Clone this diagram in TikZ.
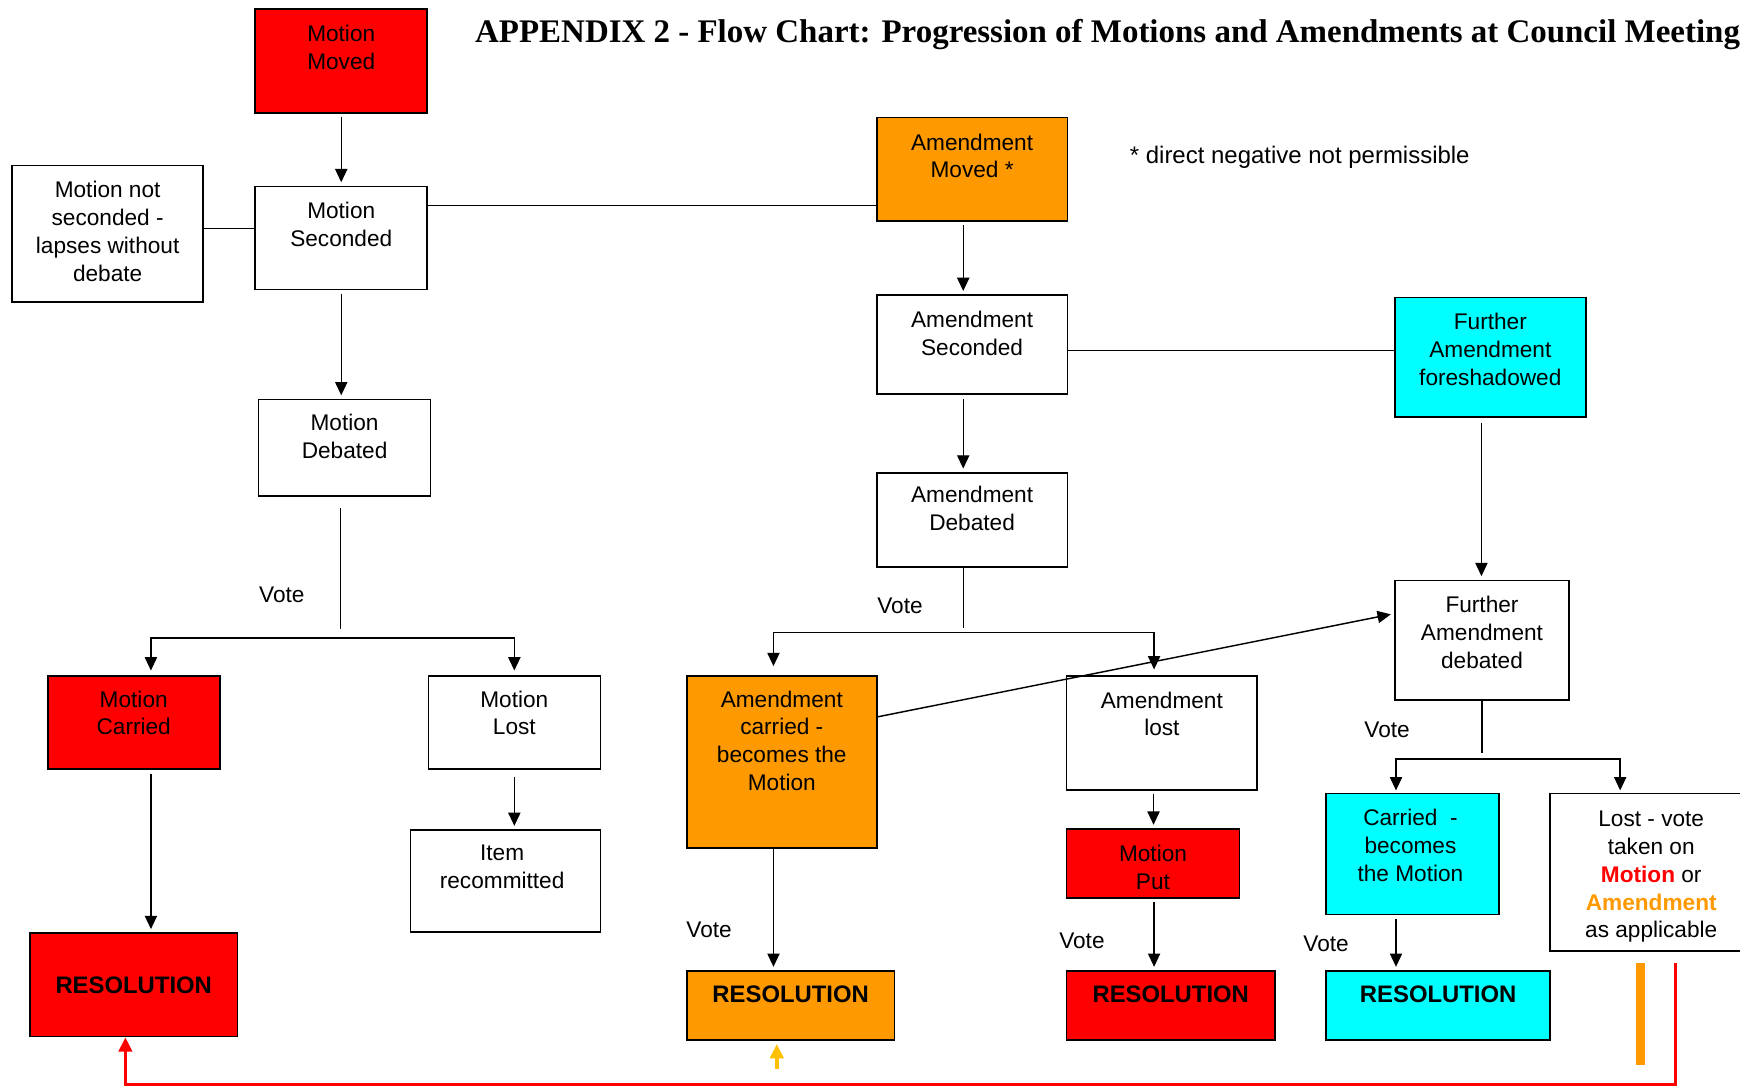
\documentclass[tikz,border=0pt]{standalone}
\usepackage{fontspec}
\setmainfont{Liberation Sans}
\newfontfamily\titlefont{Liberation Serif}
\usetikzlibrary{arrows.meta}
\definecolor{cred}{RGB}{255,0,0}
\definecolor{corange}{RGB}{255,153,0}
\definecolor{ccyan}{RGB}{0,255,255}
\definecolor{camber}{RGB}{255,192,0}
\begin{document}
\begin{tikzpicture}[x=1pt,y=-1pt,
  box/.style={draw=black, line width=1.5pt, rectangle, inner sep=0pt, align=center},
  lbl/.style={anchor=north, yshift=-15pt, inner sep=0pt, align=center, font=\fontsize{20.4}{25}\selectfont},
  reslbl/.style={anchor=north, yshift=-13.5pt, inner sep=0pt, font=\bfseries\fontsize{21.5}{25}\selectfont},
  line/.style={draw=black, line width=1.3pt},
  arr/.style={line, shorten >=3pt, -{Triangle[length=12pt,width=11pt]}},
  txt/.style={inner sep=0pt, font=\fontsize{20.4}{25}\selectfont},
]
\useasboundingbox (0,0) rectangle (1568,980);
\fill[white] (0,0) rectangle (1568,980);
\clip (0,0) rectangle (1568,980);

% title and note
\node[anchor=base west, inner sep=0pt, font=\titlefont\bfseries\fontsize{29.7}{34}\selectfont] (title) at (428,38)
  {APPENDIX 2 - Flow Chart: Progression of Motions and Amendments at Council Meeting};
\node[txt, anchor=base west, font=\fontsize{21.6}{25}\selectfont] (note) at (1018,147) {* direct negative not permissible};

% motion column
\node[box, fill=cred, minimum width=155pt, minimum height=94pt, label={[lbl]north:Motion\\Moved}] (mm) at (307.5,55) {};
\node[box, minimum width=155pt, minimum height=93pt, label={[lbl]north:Motion\\Seconded}] (ms) at (307.5,214.5) {};
\node[box, minimum width=172pt, minimum height=123pt, label={[lbl]north:Motion not\\seconded -\\lapses without\\debate}] (mns) at (97,210.5) {};
\node[box, minimum width=155pt, minimum height=87pt, label={[lbl,yshift=1pt]north:Motion\\Debated}] (md) at (310.5,403.5) {};
\node[box, fill=cred, minimum width=155pt, minimum height=84pt, label={[lbl,yshift=1pt]north:Motion\\Carried}] (mc) at (120.5,651) {};
\node[box, minimum width=155pt, minimum height=84pt, label={[lbl,yshift=1pt]north:Motion\\Lost}] (ml) at (463.5,651) {};
\node[box, minimum width=171pt, minimum height=92pt, label={[lbl,xshift=-3pt,yshift=1pt]north:Item\\recommitted}] (ir) at (455.5,794) {};
\node[box, fill=cred, minimum width=187pt, minimum height=93pt, font=\bfseries\fontsize{21.5}{25}\selectfont] (r1) at (120.5,887.5) {RESOLUTION};

% amendment column
\node[box, fill=corange, minimum width=172pt, minimum height=93pt, label={[lbl]north:Amendment\\Moved *}] (am) at (876,152.5) {};
\node[box, minimum width=172pt, minimum height=89pt, label={[lbl]north:Amendment\\Seconded}] (as) at (876,310.5) {};
\node[box, minimum width=172pt, minimum height=85pt, label={[lbl,yshift=2pt]north:Amendment\\Debated}] (ad) at (876,468.5) {};
\node[box, fill=corange, minimum width=171pt, minimum height=155pt, label={[lbl,yshift=1pt]north:Amendment\\carried -\\becomes the\\Motion}] (ac) at (704.5,686.5) {};
\node[box, minimum width=172pt, minimum height=103pt, label={[lbl]north:Amendment\\lost}] (al) at (1047,660.5) {};
\node[box, fill=cred, minimum width=156pt, minimum height=62pt, label={[lbl]north:Motion\\Put}] (mp) at (1039,778) {};
\node[box, fill=corange, minimum width=187pt, minimum height=62pt, label={[reslbl]north:RESOLUTION}] (r2) at (712.5,906) {};
\node[box, fill=cred, minimum width=188pt, minimum height=62pt, label={[reslbl]north:RESOLUTION}] (r3) at (1055,906) {};

% further amendment column
\node[box, fill=ccyan, minimum width=172pt, minimum height=108pt, label={[lbl]north:Further\\Amendment\\foreshadowed}] (faf) at (1343,322) {};
\node[box, minimum width=157pt, minimum height=108pt, label={[lbl]north:Further\\Amendment\\debated}] (fad) at (1335.5,577) {};
\node[box, fill=ccyan, minimum width=156pt, minimum height=109pt, label={[lbl,xshift=-2pt]north:Carried~~-\\becomes\\the Motion}] (cc) at (1273,769.5) {};
\node[box, minimum width=183pt, minimum height=142pt] (lv) at (1488.5,786) {};
\node[lbl] (lvt) at (1488,716) {Lost - vote\\taken on\\\textcolor{cred}{\bfseries Motion} or\\\textcolor{corange}{\bfseries Amendment}\\as applicable};
\node[box, fill=ccyan, minimum width=202pt, minimum height=62pt, label={[reslbl]north:RESOLUTION}] (r4) at (1296,906) {};

% vote labels
\node[txt, anchor=base] (vote1) at (254,542.5) {Vote};
\node[txt, anchor=base] (vote2) at (811,552.5) {Vote};
\node[txt, anchor=base] (vote3) at (1250,664.5) {Vote};
\node[txt, anchor=base] (vote4) at (639,844.5) {Vote};
\node[txt, anchor=base] (vote5) at (975,854.5) {Vote};
\node[txt, anchor=base] (vote6) at (1195,857.5) {Vote};

% junctions
\coordinate (v1) at (307,575);
\coordinate (v2) at (868,570);
\coordinate (v3) at (1335.5,684);

% motion connectors
\draw[arr] ([yshift=-3pt]mm.south) -- (ms.north);
\draw[line] ([yshift=4.5pt]mns.east) -- ([yshift=4.5pt]mns.east -| ms.west);
\draw[line] ([yshift=29.5pt]ms.east) -- ([yshift=29.5pt]ms.east -| am.west);
\draw[arr] ([yshift=-3pt]ms.south) -- (ms.south |- md.north);
\draw[line] ([yshift=-10pt]md.south -| v1) -- ([yshift=8pt]v1);
\draw[arr, shorten >=0pt] (v1) -| ([xshift=15.5pt,yshift=4pt]mc.north);
\draw[arr, shorten >=0pt] (v1) -| ([yshift=4pt]ml.north);
\draw[arr] ([xshift=15.5pt,yshift=-4pt]mc.south) -- ([xshift=15.5pt]mc.south |- r1.north);
\draw[arr] ([yshift=-6pt]ml.south) -- (ml.south |- ir.north);

% amendment connectors
\draw[arr] ([xshift=-8pt,yshift=-3pt]am.south) -- ([xshift=-8pt]am.south |- as.north);
\draw[line] ([yshift=-5.5pt]as.east) -- ([yshift=-5.5pt]as.east -| faf.west);
\draw[arr] ([xshift=-8pt,yshift=-4pt]as.south) -- ([xshift=-8pt]as.south |- ad.north);
\draw[line] ([xshift=-8pt]ad.south) -- ([yshift=4pt]v2);
\draw[arr, shorten >=0pt] (v2) -| ([xshift=-7.5pt,yshift=8pt]ac.north);
\draw[arr, shorten >=0pt] (v2) -| ([xshift=-7pt,yshift=5pt]al.north);
\draw[arr] ([yshift=40.5pt]ac.east) -- ([yshift=24pt]fad.west);
\draw[arr] ([xshift=-7.5pt,yshift=-3pt]al.south) -- ([xshift=-7.5pt]al.south |- mp.north);
\draw[arr] ([xshift=1pt,yshift=-3pt]mp.south) -- ([xshift=1pt]mp.south |- r3.north);
\draw[arr] ([xshift=-7.5pt]ac.south) -- ([xshift=-7.5pt]ac.south |- r2.north);

% further amendment connectors
\draw[arr] ([xshift=-8pt,yshift=-4pt]faf.south) -- ([xshift=-8pt]faf.south |- fad.north);
\draw[line] (fad.south) -- ([yshift=5pt]v3);
\draw[arr, shorten >=0pt] (v3) -| ([xshift=-15pt,yshift=2pt]cc.north);
\draw[arr, shorten >=0pt] (v3) -| ([xshift=-28.5pt,yshift=2pt]lv.north);
\draw[arr] ([xshift=-15pt,yshift=-3pt]cc.south) -- ([xshift=-15pt]cc.south |- r4.north);

% return paths
\coordinate (ob) at (1478,868);
\coordinate (rs) at (1510,868);
\coordinate (amb) at (700,963);
\draw[draw=corange, line width=8pt] (ob) -- ++(0,92);
\draw[draw=cred, line width=3pt, -{Triangle[length=13pt,width=12pt]}] (rs) -- (1510,977) -| ([xshift=-7.5pt]r1.south);
\draw[draw=camber, line width=3.5pt, shorten >=3pt, -{Triangle[length=13pt,width=12pt]}] (amb) -- (amb |- r2.south);
\end{tikzpicture}
\end{document}
